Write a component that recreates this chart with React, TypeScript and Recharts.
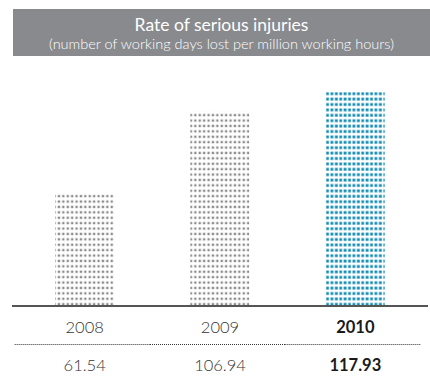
import { BarChart, Bar, XAxis, YAxis, Cell } from 'recharts';

const years = ['2008', '2009', '2010'];
const rates = [61.54, 106.94, 117.93];
const valueLabels = ['61.54', '106.94', '117.93'];
const highlight = [false, false, true];

const chartData = years.map((year, i) => ({ year, rate: rates[i] }));

const FONT = "Lato, 'Open Sans', sans-serif";

function YearTick(props: any) {
  const { x, y, payload, index } = props;
  const bold = highlight[index];
  return (
    <g>
      <text
        x={x}
        y={y + 19}
        textAnchor="middle"
        fontFamily={FONT}
        fontSize={16.5}
        fontWeight={bold ? 700 : 300}
        fill={bold ? '#1a1a1a' : '#333'}
      >
        {payload.value}
      </text>
      <line
        x1={x - 70}
        x2={x + 65}
        y1={y + 30.5}
        y2={y + 30.5}
        stroke="#333"
        strokeWidth={1}
        strokeDasharray="1 1"
      />
      <text
        x={x}
        y={y + 57}
        textAnchor="middle"
        fontFamily={FONT}
        fontSize={16.5}
        fontWeight={bold ? 700 : 300}
        fill={bold ? '#1a1a1a' : '#333'}
      >
        {valueLabels[index]}
      </text>
    </g>
  );
}

export default function App() {
  return (
    <div style={{ position: 'absolute', left: 0, top: 0, width: 430, height: 376, background: '#fff' }}>
      <div
        style={{
          position: 'absolute',
          left: 13,
          top: 9,
          width: 417,
          height: 47,
          background: '#898a8e',
          color: '#fff',
          textAlign: 'center',
          fontFamily: FONT,
        }}
      >
        <div style={{ fontSize: 17.5, lineHeight: '20px', paddingTop: 6 }}>Rate of serious injuries</div>
        <div style={{ fontSize: 14.5, fontWeight: 300, lineHeight: '17px' }}>
          (number of working days lost per million working hours)
        </div>
      </div>
      <BarChart
        width={430}
        height={376}
        data={chartData}
        margin={{ top: 70, right: 2, bottom: 40, left: 12 }}
        barSize={59}
      >
        <defs>
          <pattern id="dotsGray" patternUnits="userSpaceOnUse" width={4.4} height={5.4}>
            <rect x={0.6} y={0.6} width={2.3} height={2.3} fill="#88888b" />
          </pattern>
          <pattern id="dotsTeal" patternUnits="userSpaceOnUse" width={4.4} height={5.4}>
            <rect x={0.5} y={0.5} width={2.8} height={2.8} fill="#148cb2" />
          </pattern>
        </defs>
        <XAxis
          dataKey="year"
          height={30}
          axisLine={{ stroke: '#555', strokeWidth: 2 }}
          tickLine={false}
          padding={{ left: 5, right: 5 }}
          tick={<YearTick />}
          interval={0}
        />
        <YAxis hide domain={[0, 130]} />
        <Bar dataKey="rate" isAnimationActive={false}>
          {chartData.map((d, i) => (
            <Cell key={d.year} fill={highlight[i] ? 'url(#dotsTeal)' : 'url(#dotsGray)'} />
          ))}
        </Bar>
      </BarChart>
    </div>
  );
}
